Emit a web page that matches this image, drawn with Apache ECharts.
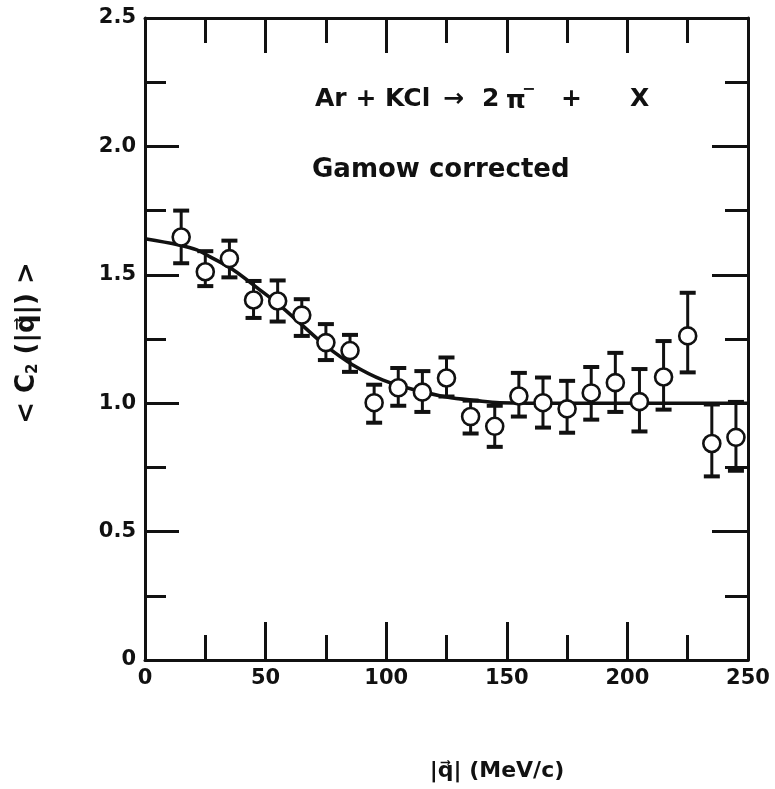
<!DOCTYPE html>
<html>
<head>
<meta charset="utf-8">
<script src="https://cdn.jsdelivr.net/npm/echarts@6/dist/echarts.min.js"></script>
<style>
html,body{margin:0;padding:0;background:#fff;}
#chart{width:775px;height:789px;}
</style>
</head>
<body>
<div id="chart"></div>
<script>
// ---- data ----
const qValues   = [15, 25, 35, 45, 55, 65, 75, 85, 95, 105, 115, 125, 135, 145, 155, 165, 175, 185, 195, 205, 215, 225, 235, 245];
const c2Values  = [1.647, 1.512, 1.563, 1.402, 1.398, 1.343, 1.236, 1.205, 1.002, 1.060, 1.043, 1.098, 0.948, 0.910, 1.028, 1.002, 0.978, 1.040, 1.080, 1.006, 1.102, 1.262, 0.843, 0.867];
const errLow    = [1.545, 1.456, 1.490, 1.332, 1.318, 1.262, 1.168, 1.122, 0.924, 0.990, 0.966, 1.026, 0.882, 0.830, 0.948, 0.905, 0.885, 0.936, 0.966, 0.890, 0.975, 1.120, 0.715, 0.737];
const errHigh   = [1.750, 1.592, 1.633, 1.476, 1.478, 1.405, 1.308, 1.266, 1.072, 1.137, 1.125, 1.178, 1.010, 0.990, 1.118, 1.100, 1.087, 1.141, 1.196, 1.133, 1.242, 1.430, 0.995, 1.005];
const fitQ      = [0, 14, 21.5, 27, 36.5, 46.4, 56, 65.6, 75.4, 86, 98.7, 112.7, 125, 137.5, 147, 175, 200, 225, 250];
const fitC2     = [1.640, 1.616, 1.597, 1.570, 1.520, 1.450, 1.380, 1.300, 1.220, 1.150, 1.090, 1.050, 1.024, 1.010, 1.002, 1.000, 1.000, 1.000, 1.000];
const xTickLabels = ['0', '50', '100', '150', '200', '250'];
const yTickLabels = ['0', '0.5', '1.0', '1.5', '2.0', '2.5'];

const INK = '#111';
const FONT = 'DejaVu Sans';

const chart = echarts.init(document.getElementById('chart'), null, {renderer: 'canvas'});

const pts = qValues.map((q, i) => [q, c2Values[i]]);
const errs = qValues.map((q, i) => [q, errLow[i], errHigh[i]]);
const fit = fitQ.map((q, i) => [q, fitC2[i]]);

function axis(extra, major, minor) {
  return Object.assign({
    type: 'value',
    axisLine: {show: true, onZero: false, lineStyle: {color: INK, width: 3}},
    splitLine: {show: false},
    axisTick: {show: true, inside: true, length: major, lineStyle: {color: INK, width: 3}},
    minorTick: {show: true, splitNumber: 2, length: minor, lineStyle: {color: INK, width: 3}},
    minorSplitLine: {show: false}
  }, extra);
}

const option = {
  backgroundColor: '#fff',
  animation: false,
  grid: {left: 145, top: 18, right: 27, bottom: 129, containLabel: false},
  xAxis: [
    axis({
      position: 'bottom', min: 0, max: 250, interval: 50,
      axisLabel: {
        show: true, margin: 8, color: INK, fontFamily: FONT, fontWeight: 'bold', fontSize: 21,
        formatter: function (v) { return xTickLabels[Math.round(v / 50)]; }
      }
    }, 38, 25),
    axis({position: 'top', min: 0, max: 250, interval: 50, axisLabel: {show: false}}, 35, 25)
  ],
  yAxis: [
    axis({
      position: 'left', min: 0, max: 2.5, interval: 0.5,
      axisLabel: {
        show: true, margin: 9, color: INK, fontFamily: FONT, fontWeight: 'bold', fontSize: 21,
        formatter: function (v) { return yTickLabels[Math.round(v / 0.5)]; }
      }
    }, 34, 21),
    axis({position: 'right', min: 0, max: 2.5, interval: 0.5, axisLabel: {show: false}}, 36, 23)
  ],
  series: [
    {
      type: 'line', data: fit, smooth: 0.35, symbol: 'none', z: 2,
      lineStyle: {color: INK, width: 3.6}
    },
    {
      type: 'custom', data: errs, z: 3,
      renderItem: function (params, api) {
        const x = api.value(0);
        const lo = api.coord([x, api.value(1)]);
        const hi = api.coord([x, api.value(2)]);
        const hw = 8;
        return {
          type: 'group',
          children: [
            {type: 'line', shape: {x1: lo[0], y1: lo[1], x2: hi[0], y2: hi[1]}, style: {stroke: INK, lineWidth: 3}},
            {type: 'line', shape: {x1: lo[0] - hw, y1: lo[1], x2: lo[0] + hw, y2: lo[1]}, style: {stroke: INK, lineWidth: 4}},
            {type: 'line', shape: {x1: hi[0] - hw, y1: hi[1], x2: hi[0] + hw, y2: hi[1]}, style: {stroke: INK, lineWidth: 4}}
          ]
        };
      }
    },
    {
      type: 'scatter', data: pts, z: 4, symbol: 'circle', symbolSize: 17,
      itemStyle: {color: '#fff', borderColor: INK, borderWidth: 2.6, opacity: 1}
    }
  ],
  graphic: [
    {type: 'text', x: 315, y: 99, style: {text: 'Ar + KCl', fontFamily: FONT, fontWeight: 'bold', fontSize: 25, fill: INK, textVerticalAlign: 'middle'}},
    {type: 'text', x: 443, y: 99, style: {text: '\u2192', fontFamily: FONT, fontWeight: 'bold', fontSize: 25, fill: INK, textVerticalAlign: 'middle'}},
    {type: 'text', x: 482, y: 99, style: {text: '2', fontFamily: FONT, fontWeight: 'bold', fontSize: 25, fill: INK, textVerticalAlign: 'middle'}},
    {type: 'text', x: 506, y: 101, style: {text: '\u03C0', fontFamily: FONT, fontWeight: 'bold', fontSize: 25, fill: INK, textVerticalAlign: 'middle'}},
    {type: 'text', x: 522, y: 90, style: {text: '\u2212', fontFamily: FONT, fontWeight: 'bold', fontSize: 16, fill: INK, textVerticalAlign: 'middle'}},
    {type: 'text', x: 561, y: 99, style: {text: '+', fontFamily: FONT, fontWeight: 'bold', fontSize: 25, fill: INK, textVerticalAlign: 'middle'}},
    {type: 'text', x: 630, y: 99, style: {text: 'X', fontFamily: FONT, fontWeight: 'bold', fontSize: 25, fill: INK, textVerticalAlign: 'middle'}},
    {type: 'text', x: 312, y: 170, style: {text: 'Gamow corrected', fontFamily: FONT, fontWeight: 'bold', fontSize: 26, fill: INK, textVerticalAlign: 'middle'}},
    {type: 'text', x: 497, y: 771, style: {text: '|q\u20D7| (MeV/c)', fontFamily: FONT, fontWeight: 'bold', fontSize: 22, fill: INK, textAlign: 'center', textVerticalAlign: 'middle'}},
    {type: 'text', x: 27, y: 343, rotation: Math.PI / 2,
      style: {
        text: '< C{sub|2} (|q\u20D7|) >', fontFamily: FONT, fontWeight: 'bold', fontSize: 26, fill: INK,
        textAlign: 'center', textVerticalAlign: 'middle',
        rich: {sub: {fontFamily: FONT, fontWeight: 'bold', fontSize: 15, fill: INK, verticalAlign: 'bottom', padding: [12, 0, 0, 0]}}
      }}
  ]
};
chart.setOption(option);
</script>
</body>
</html>
